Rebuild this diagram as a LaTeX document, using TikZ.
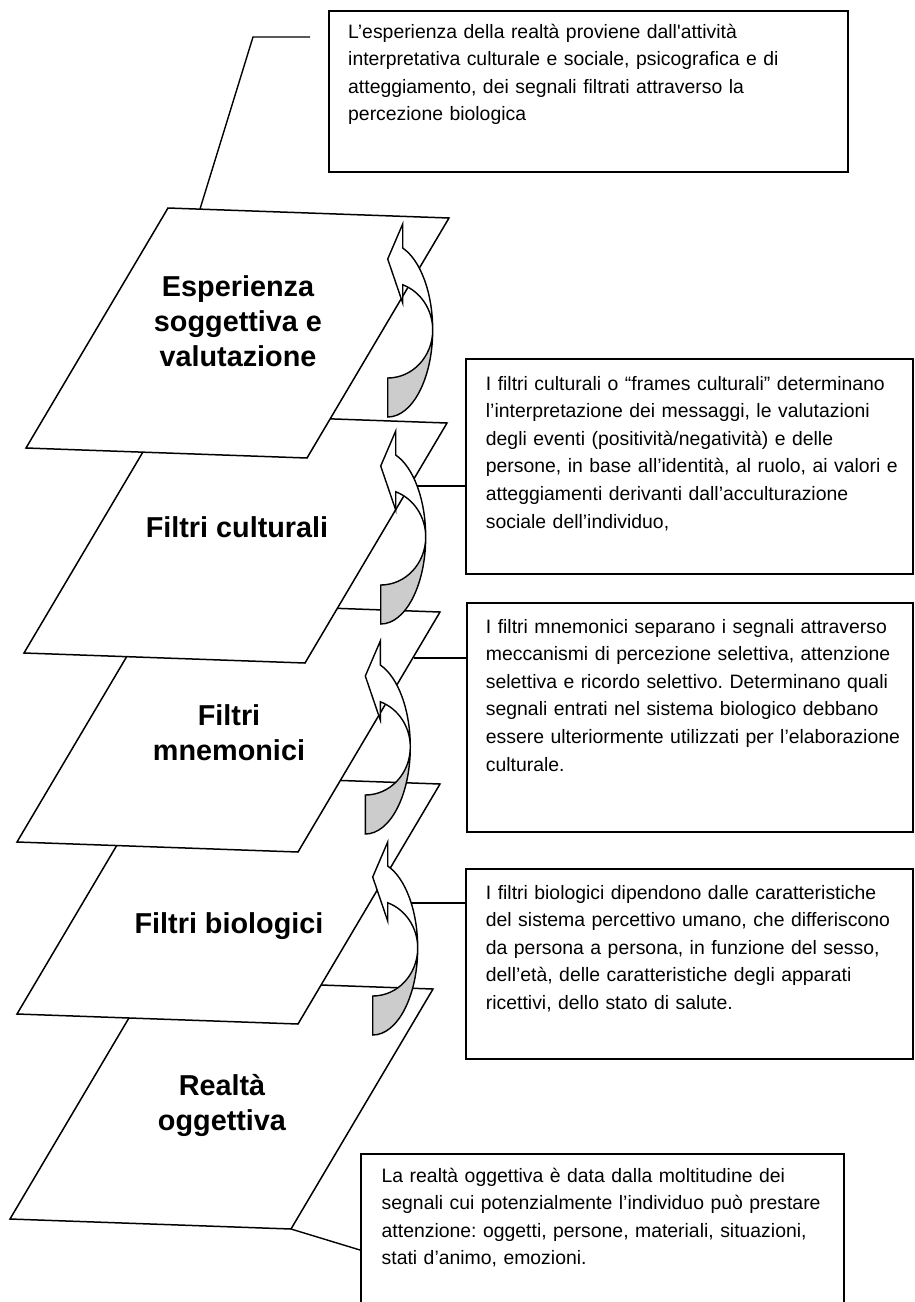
\documentclass[tikz,border=0pt]{standalone}
\usepackage{fontspec}
\setmainfont{Liberation Sans}
\usetikzlibrary{positioning, calc}

\begin{document}
\begin{tikzpicture}[
    x=1pt, y=-1pt,
    layer/.style={draw=black, fill=white, line width=1.5pt},
    layertext/.style={font=\fontsize{28.8}{35}\selectfont\bfseries, align=center, inner sep=0pt},
    infobox/.style={draw=black, line width=2pt, anchor=north west, inner sep=0pt},
    infotext/.style={font=\fontsize{19.4}{27.6}\selectfont\frenchspacing, anchor=base west, inner sep=0pt, text width=480pt, align=left},
    calloutline/.style={draw=black, line width=1.4pt},
    curvarrow/.pic={
        \filldraw[fill=black!20, line width=1.4pt] (45,-87) arc[start angle=0, end angle=90, x radius=45, y radius=87]
            -- (0,-39) arc[start angle=90, end angle=0, x radius=45, y radius=48] -- cycle;
        \filldraw[fill=white, line width=1.4pt] (15,-193) -- (15,-169)
            arc[start angle=-70.53, end angle=0, x radius=45, y radius=87]
            arc[start angle=0, end angle=-70.53, x radius=45, y radius=48]
            -- (15,-114) -- (0,-158) -- cycle;
    }
]
    \useasboundingbox (0,0) rectangle (915,1302);

    % Layers, from the bottom up
    \draw[layer] (152,979) -- ++(281,10) -- ++(-142,240) coordinate (realtaBR) -- ++(-281,-10) -- cycle;
    \draw[layer] (159,774) -- ++(281,10) -- ++(-142,240) -- ++(-281,-10) -- cycle;
    \draw[layer] (159,602) -- ++(281,10) -- ++(-142,240) -- ++(-281,-10) -- cycle;
    \draw[layer] (166,413) -- ++(281,10) -- ++(-142,240) -- ++(-281,-10) -- cycle;
    \draw[layer] (168,208) -- ++(281,10) -- ++(-142,240) -- ++(-281,-10) -- cycle;

    \node[layertext] (realta) at (222,1105) {Realtà\\oggettiva};
    \node[layertext] (bio) at (229,926) {Filtri biologici};
    \node[layertext] (mnem) at (229,733) {Filtri\\mnemonici};
    \node[layertext] (cult) at (237,527) {Filtri culturali};
    \node[layertext] (esp) at (238,321) {Esperienza\\soggettiva e\\valutazione};

    % Boxes
    \node[infobox, minimum width=519, minimum height=161] (boxesp) at (328,10) {};
    \node[infobox, minimum width=447, minimum height=215] (boxcult) at (465,358) {};
    \node[infobox, minimum width=446, minimum height=229] (boxmnem) at (466,602) {};
    \node[infobox, minimum width=447, minimum height=190] (boxbio) at (465,868) {};
    \node[infobox, minimum width=483, minimum height=200] (boxreal) at (360,1153) {};

    \node[infotext] (txtesp) at ([xshift=20pt, yshift=-28pt]boxesp.north west)
        {L’esperienza della realtà proviene dall\textquotesingle attività\\
         interpretativa culturale e sociale, psicografica e di\\
         atteggiamento, dei segnali filtrati attraverso la\\
         percezione biologica};
    \node[infotext] (txtcult) at ([xshift=20.7pt, yshift=-32pt]boxcult.north west)
        {I filtri culturali o “frames culturali” determinano\\
         l’interpretazione dei messaggi, le valutazioni\\
         degli eventi (positività/negatività) e delle\\
         persone, in base all’identità, al ruolo, ai valori e\\
         atteggiamenti derivanti dall’acculturazione\\
         sociale dell’individuo,};
    \node[infotext] (txtmnem) at ([xshift=19.7pt, yshift=-31pt]boxmnem.north west)
        {I filtri mnemonici separano i segnali attraverso\\
         meccanismi di percezione selettiva, attenzione\\
         selettiva e ricordo selettivo. Determinano quali\\
         segnali entrati nel sistema biologico debbano\\
         essere ulteriormente utilizzati per l’elaborazione\\
         culturale.};
    \node[infotext] (txtbio) at ([xshift=20.7pt, yshift=-31pt]boxbio.north west)
        {I filtri biologici dipendono dalle caratteristiche\\
         del sistema percettivo umano, che differiscono\\
         da persona a persona, in funzione del sesso,\\
         dell’età, delle caratteristiche degli apparati\\
         ricettivi, dello stato di salute.};
    \node[infotext] (txtreal) at ([xshift=21.5pt, yshift=-29pt]boxreal.north west)
        {La realtà oggettiva è data dalla moltitudine dei\\
         segnali cui potenzialmente l’individuo può prestare\\
         attenzione: oggetti, persone, materiali, situazioni,\\
         stati d’animo, emozioni.};

    % Callout lines
    \coordinate (espTop) at (200,209);
    \coordinate (espBend) at (253,37);
    \coordinate (espEnd) at (310,37);
    \coordinate (cultEdge) at (410,486);
    \coordinate (mnemEdge) at (414,658);
    \coordinate (bioEdge) at (411,903);
    \draw[calloutline] (espTop) -- (espBend) -- (espEnd);
    \draw[calloutline] (cultEdge) -- (cultEdge -| boxcult.west);
    \draw[calloutline] (mnemEdge) -- (mnemEdge -| boxmnem.west);
    \draw[calloutline] (bioEdge) -- (bioEdge -| boxbio.west);
    \draw[calloutline] (realtaBR) -- (boxreal.west |- 0,1250);

    % Curved arrows
    \pic at (387.7,417) {curvarrow};
    \pic at (380.7,624) {curvarrow};
    \pic at (365.3,834) {curvarrow};
    \pic at (372.7,1035) {curvarrow};
\end{tikzpicture}
\end{document}
